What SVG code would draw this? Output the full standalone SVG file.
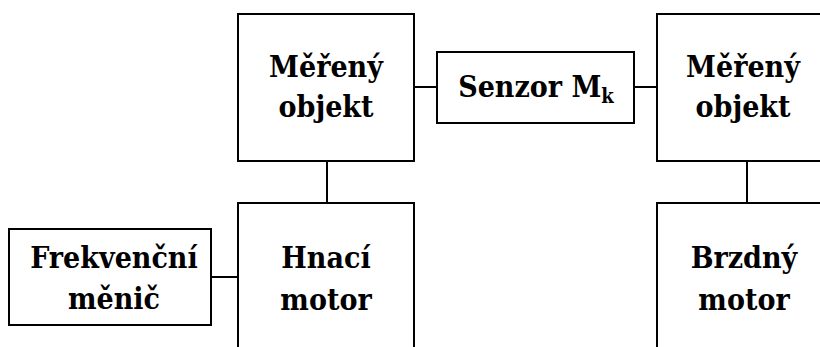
<svg xmlns="http://www.w3.org/2000/svg" width="820" height="347" viewBox="0 0 820 347">
  <style>
    .box { fill: #ffffff; stroke: #000000; stroke-width: 2; }
    .wire { fill: none; stroke: #000000; stroke-width: 2; }
    .lbl { font-family: 'DejaVu Serif Condensed', 'DejaVu Serif', 'Liberation Serif', serif; font-stretch: condensed; font-weight: bold; font-size: 30px; fill: #000000; text-anchor: middle; }
    .sub { font-size: 20px; }
  </style>
  <rect width="820" height="347" fill="#ffffff"/>

  <!-- connectors -->
  <g id="connectors">
    <line class="wire" x1="414" y1="87" x2="437" y2="87"/>
    <line class="wire" x1="634" y1="87" x2="657" y2="87"/>
    <line class="wire" x1="327" y1="161" x2="327" y2="203"/>
    <line class="wire" x1="747" y1="161" x2="747" y2="203"/>
    <line class="wire" x1="211" y1="277" x2="238" y2="277"/>
  </g>

  <g id="mereny-objekt-1">
    <rect class="box" x="238" y="14" width="176" height="147"/>
    <text class="lbl" x="326" y="77">Měřený</text>
    <text class="lbl" x="326" y="117">objekt</text>
  </g>

  <g id="senzor">
    <rect class="box" x="437" y="52" width="197" height="71"/>
    <text class="lbl" x="536" y="97">Senzor M<tspan class="sub" dy="6">k</tspan></text>
  </g>

  <g id="mereny-objekt-2">
    <rect class="box" x="657" y="14" width="180" height="147"/>
    <text class="lbl" x="743" y="77">Měřený</text>
    <text class="lbl" x="743" y="117">objekt</text>
  </g>

  <g id="frekvencni-menic">
    <rect class="box" x="9" y="229" width="202" height="96"/>
    <text class="lbl" x="114" y="268">Frekvenční</text>
    <text class="lbl" x="114" y="309">měnič</text>
  </g>

  <g id="hnaci-motor">
    <rect class="box" x="238" y="203" width="176" height="160"/>
    <text class="lbl" x="326" y="268">Hnací</text>
    <text class="lbl" x="326" y="310">motor</text>
  </g>

  <g id="brzdny-motor">
    <rect class="box" x="657" y="203" width="180" height="160"/>
    <text class="lbl" x="744" y="268">Brzdný</text>
    <text class="lbl" x="744" y="310">motor</text>
  </g>
</svg>
